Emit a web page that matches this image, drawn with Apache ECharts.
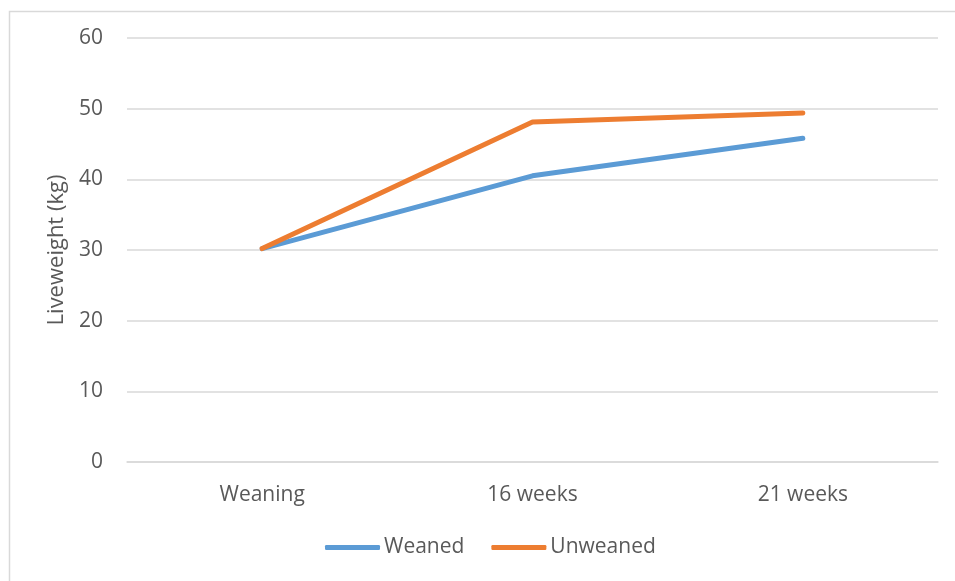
<!DOCTYPE html>
<html>
<head>
<meta charset="utf-8">
<style>
  html, body { margin: 0; padding: 0; background: #ffffff; }
  #chart { width: 955px; height: 581px; }
</style>
<script src="https://cdn.jsdelivr.net/npm/echarts@6/dist/echarts.min.js"></script>
</head>
<body>
<div id="chart"></div>
<script>
// Liveweight of lambs at three stages, weaned vs unweaned
const categories = ['Weaning', '16 weeks', '21 weeks'];
const weaned = [30.2, 40.5, 45.8];
const unweaned = [30.2, 48.1, 49.4];
const seriesNames = ['Weaned', 'Unweaned'];
const yAxisTitle = 'Liveweight (kg)';

const FONT = '"Open Sans", "Noto Sans", sans-serif';
const TEXT = '#595959';
const GRID = '#d9d9d9';

const chart = echarts.init(document.getElementById('chart'), null, { renderer: 'canvas' });

chart.setOption({
  animation: false,
  backgroundColor: '#ffffff',
  textStyle: { fontFamily: FONT },
  graphic: [{
    type: 'rect',
    left: 7, top: 9,
    shape: { width: 980, height: 600 },
    style: { fill: 'none', stroke: GRID, lineWidth: 1.5 },
    silent: true
  }],
  grid: { left: 127, right: 17, top: 38, bottom: 119, containLabel: false },
  legend: {
    bottom: 18,
    left: 320,
    itemWidth: 55,
    itemHeight: 5,
    itemGap: 27,
    icon: 'roundRect',
    textStyle: { color: TEXT, fontSize: 21, fontFamily: FONT, padding: [0, 0, 0, -1] },
    data: seriesNames
  },
  xAxis: {
    type: 'category',
    data: categories,
    boundaryGap: true,
    axisLine: { show: true, lineStyle: { color: GRID, width: 1.5 } },
    axisTick: { show: false },
    axisLabel: { color: TEXT, fontSize: 21, fontFamily: FONT, margin: 23 },
    splitLine: { show: false }
  },
  yAxis: {
    type: 'value',
    min: 0, max: 60, interval: 10,
    name: yAxisTitle,
    nameLocation: 'middle',
    nameGap: 55,
    nameRotate: 90,
    nameTextStyle: { color: TEXT, fontSize: 22, fontFamily: FONT },
    axisLine: { show: false },
    axisTick: { show: false },
    axisLabel: { color: TEXT, fontSize: 21, fontFamily: FONT, margin: 24 },
    splitLine: { lineStyle: { color: GRID, width: 1.5 } }
  },
  series: [
    {
      name: seriesNames[0],
      type: 'line',
      data: weaned,
      symbol: 'none',
      color: '#5B9BD5',
      lineStyle: { width: 5, cap: 'round', join: 'round' }
    },
    {
      name: seriesNames[1],
      type: 'line',
      data: unweaned,
      symbol: 'none',
      color: '#ED7D31',
      lineStyle: { width: 5, cap: 'round', join: 'round' }
    }
  ]
});
</script>
</body>
</html>
